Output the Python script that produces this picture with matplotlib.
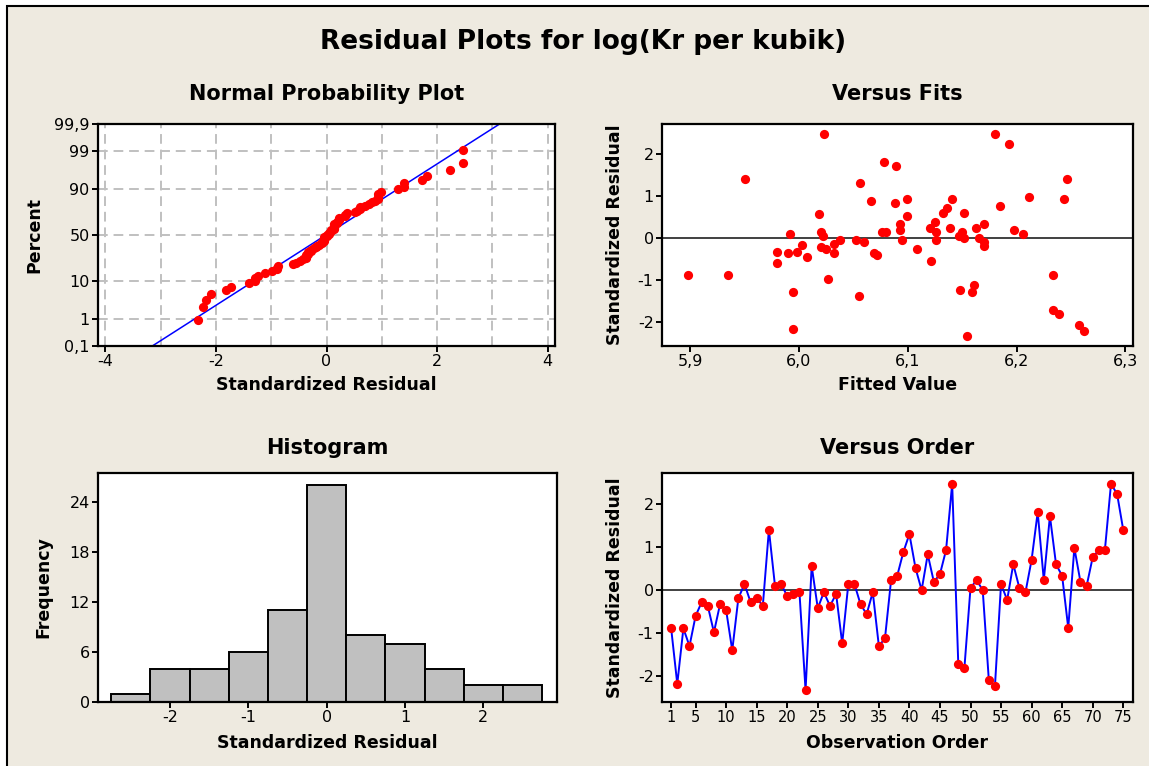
import matplotlib
matplotlib.use("Agg")
import matplotlib.pyplot as plt
from matplotlib.patches import Rectangle
from statistics import NormalDist
import numpy as np

# standardized residuals in observation order (1..75)
resid = [-0.89, -2.18, -0.89, -1.30, -0.60, -0.28, -0.37, -0.98, -0.33, -0.47,
         -1.40, -0.19, 0.14, -0.28, -0.18, -0.37, 1.40, 0.09, 0.14, -0.14,
         -0.09, -0.05, -2.33, 0.56, -0.42, -0.05, -0.37, -0.09, -1.24, 0.14,
         0.14, -0.33, -0.56, -0.05, -1.30, -1.12, 0.23, 0.33, 0.88, 1.30,
         0.51, 0.00, 0.83, 0.19, 0.37, 0.93, 2.47, -1.72, -1.81, 0.05,
         0.23, 0.00, -2.09, -2.23, 0.14, -0.23, 0.60, 0.05, -0.05, 0.70,
         1.81, 0.23, 1.72, 0.60, 0.33, -0.88, 0.98, 0.19, 0.09, 0.76,
         0.93, 0.93, 2.47, 2.23, 1.40]

# fitted values, same order
fits = [5.898, 5.994, 5.935, 5.994, 5.980, 6.025, 5.990, 6.027, 5.980, 6.007,
        6.055, 6.170, 6.020, 6.108, 6.003, 6.032, 5.950, 6.206, 6.076, 6.032,
        6.060, 6.038, 6.154, 6.018, 6.072, 6.052, 6.069, 6.170, 6.148, 6.080,
        6.126, 5.998, 6.121, 6.095, 6.159, 6.161, 6.139, 6.093, 6.066, 6.056,
        6.099, 6.152, 6.088, 6.198, 6.125, 6.244, 6.023, 6.233, 6.239, 6.022,
        6.163, 6.165, 6.257, 6.262, 6.150, 6.020, 6.132, 6.147, 6.126, 6.136,
        6.078, 6.120, 6.089, 6.152, 6.170, 6.233, 6.211, 6.093, 5.992, 6.185,
        6.099, 6.141, 6.180, 6.193, 6.246]

prob_ticks = [0.1, 1, 10, 50, 90, 99, 99.9]
prob_labels = ["0,1", "1", "10", "50", "90", "99", "99,9"]
fit_ticks = [5.9, 6.0, 6.1, 6.2, 6.3]
fit_labels = ["5,9", "6,0", "6,1", "6,2", "6,3"]
order_ticks = [1, 5, 10, 15, 20, 25, 30, 35, 40, 45, 50, 55, 60, 65, 70, 75]
hist_bins = [-2.75, -2.25, -1.75, -1.25, -0.75, -0.25, 0.25, 0.75, 1.25, 1.75, 2.25, 2.75]

plt.rcParams["font.family"] = "DejaVu Sans"
plt.rcParams["axes.unicode_minus"] = False
bg = "#EEEAE0"
W, H = 1149, 766

fig = plt.figure(figsize=(W / 100, H / 100), dpi=100, facecolor="white")
fig.patches.append(Rectangle((7 / W, -0.1), 1.2, 1.1 - 6 / H, transform=fig.transFigure,
                             facecolor=bg, edgecolor="black", linewidth=1.5, zorder=-10))

def box(x0, y0, x1, y1):
    return fig.add_axes([x0 / W, 1 - y1 / H, (x1 - x0) / W, (y1 - y0) / H])

def style(ax):
    for s in ax.spines.values():
        s.set_linewidth(1.6)
    ax.tick_params(direction="out", length=4, width=1.4, labelsize=11.5, pad=2)

ax1 = box(98, 124, 555, 346)
ax2 = box(662, 124, 1133, 346)
ax3 = box(98, 473, 557, 702)
ax4 = box(662, 473, 1133, 702)

fig.text(583 / W, 1 - 42 / H, "Residual Plots for log(Kr per kubik)", ha="center", va="center",
         fontsize=19, fontweight="bold")

# normal probability plot
nd = NormalDist()
n = len(resid)
xs = np.sort(resid)
pos = [(i + 1 - 0.3) / (n + 0.4) for i in range(n)]
zs = [nd.inv_cdf(p) for p in pos]
mu, sd = np.mean(resid), np.std(resid, ddof=1)
zlo, zhi = nd.inv_cdf(0.001), nd.inv_cdf(0.999)
ax1.plot([mu + sd * zlo, mu + sd * zhi], [zlo, zhi], color="blue", lw=1.1, zorder=2)
ax1.scatter(xs, zs, s=44, color="red", zorder=3, linewidths=0)
ax1.set_xlim(-4.13, 4.13)
ax1.set_ylim(zlo, zhi)
ax1.set_yticks([nd.inv_cdf(p / 100) for p in prob_ticks])
ax1.set_yticklabels(prob_labels, fontsize=10)
ax1.set_xticks([-4, -2, 0, 2, 4])
ax1.set_xticks([-3, -1, 1, 3], minor=True)
ax1.tick_params(which="minor", length=0)
ax1.grid(True, which="both", color="#C0C0C0", linestyle=(0, (5, 3)), linewidth=1.4, zorder=0)
ax1.set_axisbelow(True)
style(ax1)
ax1.set_title("Normal Probability Plot", fontsize=15, fontweight="bold", pad=17)
ax1.set_xlabel("Standardized Residual", fontsize=12.5, fontweight="bold", labelpad=5)
ax1.set_ylabel("Percent", fontsize=12.5, fontweight="bold", labelpad=8)

# versus fits
ax2.axhline(0, color="#404040", lw=1.4, zorder=1)
ax2.scatter(fits, resid, s=44, color="red", zorder=3, linewidths=0)
ax2.set_xlim(5.874, 6.307)
ax2.set_ylim(-2.58, 2.71)
ax2.set_xticks(fit_ticks)
ax2.set_xticklabels(fit_labels)
ax2.set_yticks([-2, -1, 0, 1, 2])
style(ax2)
ax2.set_title("Versus Fits", fontsize=15, fontweight="bold", pad=17)
ax2.set_xlabel("Fitted Value", fontsize=12.5, fontweight="bold", labelpad=5)
ax2.set_ylabel("Standardized Residual", fontsize=12.5, fontweight="bold", labelpad=10)

# histogram
ax3.hist(resid, bins=hist_bins, color="#C0C0C0", edgecolor="black", linewidth=1.4)
ax3.set_xlim(-2.92, 2.94)
ax3.set_ylim(0, 27.5)
ax3.set_xticks([-2, -1, 0, 1, 2])
ax3.set_yticks([0, 6, 12, 18, 24])
style(ax3)
ax3.set_title("Histogram", fontsize=15, fontweight="bold", pad=14)
ax3.set_xlabel("Standardized Residual", fontsize=12.5, fontweight="bold", labelpad=6)
ax3.set_ylabel("Frequency", fontsize=12.5, fontweight="bold", labelpad=12)

# versus order
obs = np.arange(1, n + 1)
ax4.axhline(0, color="#404040", lw=1.4, zorder=1)
ax4.plot(obs, resid, color="blue", lw=1.4, zorder=2)
ax4.scatter(obs, resid, s=44, color="red", zorder=3, linewidths=0)
ax4.set_xlim(-0.5, 76.6)
ax4.set_ylim(-2.6, 2.72)
ax4.set_xticks(order_ticks)
ax4.set_yticks([-2, -1, 0, 1, 2])
style(ax4)
ax4.tick_params(axis="x", labelsize=10.5)
ax4.set_title("Versus Order", fontsize=15, fontweight="bold", pad=14)
ax4.set_xlabel("Observation Order", fontsize=12.5, fontweight="bold", labelpad=6)
ax4.set_ylabel("Standardized Residual", fontsize=12.5, fontweight="bold", labelpad=10)

for ax in (ax1, ax2, ax3, ax4):
    ax.set_facecolor("white")

fig.savefig("out.png", dpi=100, facecolor=fig.get_facecolor())
